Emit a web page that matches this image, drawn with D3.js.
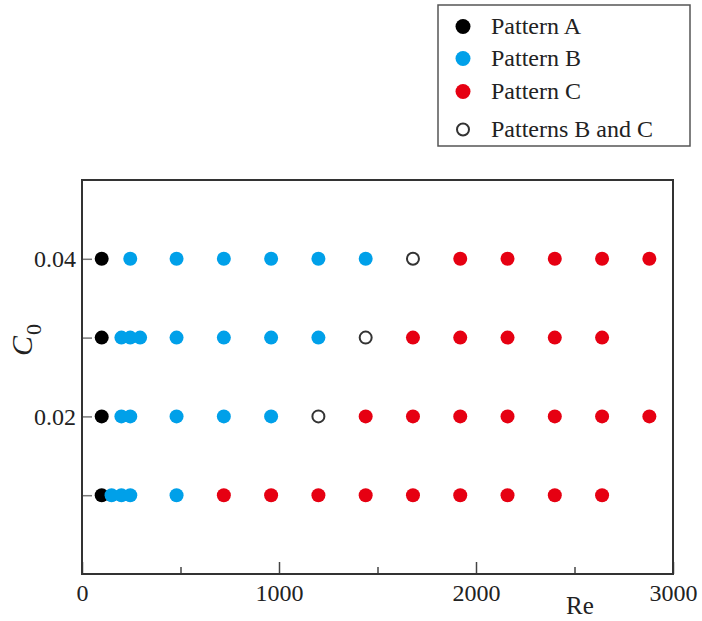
<!DOCTYPE html>
<html>
<head>
<meta charset="utf-8">
<script src="https://cdn.jsdelivr.net/npm/d3@7"></script>
<style>
body { margin: 0; background: #fff; }
text { font-family: "Liberation Serif", "Times New Roman", serif; fill: #222; }
</style>
</head>
<body>
<script>
// data: [Re, C0]
var patternA = [[100, 0.04], [100, 0.03], [100, 0.02], [100, 0.01]];
var patternB = [
    [245, 0.04], [480, 0.04], [720, 0.04], [960, 0.04], [1200, 0.04], [1440, 0.04],
    [200, 0.03], [245, 0.03], [295, 0.03], [480, 0.03], [720, 0.03], [960, 0.03], [1200, 0.03],
    [200, 0.02], [245, 0.02], [480, 0.02], [720, 0.02], [960, 0.02],
    [150, 0.01], [200, 0.01], [245, 0.01], [480, 0.01]
];
var patternC = [
    [1920, 0.04], [2160, 0.04], [2400, 0.04], [2640, 0.04], [2880, 0.04],
    [1680, 0.03], [1920, 0.03], [2160, 0.03], [2400, 0.03], [2640, 0.03],
    [1440, 0.02], [1680, 0.02], [1920, 0.02], [2160, 0.02], [2400, 0.02], [2640, 0.02], [2880, 0.02],
    [720, 0.01], [960, 0.01], [1200, 0.01], [1440, 0.01], [1680, 0.01], [1920, 0.01], [2160, 0.01], [2400, 0.01], [2640, 0.01]
];
var patternBC = [[1680, 0.04], [1440, 0.03], [1200, 0.02]];

var legendNames = ["Pattern A", "Pattern B", "Pattern C", "Patterns B and C"];
var xMajorTicks = [0, 1000, 2000, 3000];
var xMinorTicks = [500, 1500, 2500];
var yTicks = [0.01, 0.02, 0.03, 0.04];
var yLabelled = [0.02, 0.04];

var margin = {top: 180, right: 29, bottom: 47, left: 82},
    width = 702 - margin.left - margin.right,
    height = 621 - margin.top - margin.bottom;

var svg = d3.select("body").append("svg")
    .attr("width", 702)
    .attr("height", 621);

var g = svg.append("g")
    .attr("transform", "translate(" + margin.left + "," + margin.top + ")");

var x = d3.scaleLinear().domain([0, 3000]).range([0, width]);
var y = d3.scaleLinear().domain([0, 0.05]).range([height, 0]);

// ticks pointing inward
var xAxis = g.append("g")
    .attr("transform", "translate(0," + height + ")")
    .call(d3.axisBottom(x).tickValues(xMajorTicks).tickSize(-12).tickPadding(10)
        .tickFormat(d3.format("d")));
xAxis.select(".domain").remove();
xAxis.selectAll("line").attr("stroke", "#444").attr("stroke-width", 1.5);
xAxis.selectAll("text").attr("font-size", 24).attr("font-family", null).attr("fill", "#222");

var xMinor = g.append("g")
    .attr("transform", "translate(0," + height + ")")
    .call(d3.axisBottom(x).tickValues(xMinorTicks).tickSize(-7).tickFormat(""));
xMinor.select(".domain").remove();
xMinor.selectAll("line").attr("stroke", "#444").attr("stroke-width", 1.5);

var yAxis = g.append("g")
    .call(d3.axisLeft(y).tickValues(yTicks).tickSize(-10).tickPadding(6)
        .tickFormat(function (d) {
            return yLabelled.indexOf(d) >= 0 ? d3.format(".2f")(d) : "";
        }));
yAxis.select(".domain").remove();
yAxis.selectAll("line").attr("stroke", "#777").attr("stroke-width", 1.5);
yAxis.selectAll("text").attr("font-size", 24).attr("font-family", null).attr("fill", "#222");

// frame
g.append("rect")
    .attr("width", width)
    .attr("height", height)
    .attr("fill", "none")
    .attr("stroke", "#333")
    .attr("stroke-width", 2);

// points
function dots(data, fill) {
    g.append("g").selectAll("circle")
        .data(data)
        .enter().append("circle")
        .attr("cx", function (d) { return x(d[0]); })
        .attr("cy", function (d) { return y(d[1]); })
        .attr("r", 7)
        .attr("fill", fill);
}
dots(patternA, "#000");
dots(patternB, "#00a0e9");
dots(patternC, "#e60012");

g.append("g").selectAll("circle")
    .data(patternBC)
    .enter().append("circle")
    .attr("cx", function (d) { return x(d[0]); })
    .attr("cy", function (d) { return y(d[1]); })
    .attr("r", 6)
    .attr("fill", "#fff")
    .attr("stroke", "#333")
    .attr("stroke-width", 2);

// axis titles
svg.append("text")
    .attr("x", 566)
    .attr("y", 614)
    .attr("font-size", 25)
    .text("Re");

var yt = svg.append("text")
    .attr("transform", "translate(32,356) rotate(-90)");
yt.append("tspan").attr("font-size", 30).attr("font-style", "italic").text("C");
yt.append("tspan").attr("font-size", 22).attr("dy", 9).attr("dx", 1).text("0");

// legend
var legend = svg.append("g");
legend.append("rect")
    .attr("x", 438).attr("y", 5)
    .attr("width", 252).attr("height", 141)
    .attr("fill", "#fff")
    .attr("stroke", "#555")
    .attr("stroke-width", 1.5);

var baselines = [34, 66, 99, 137];
var legendFill = ["#000", "#00a0e9", "#e60012", "#fff"];

var item = legend.selectAll(".item")
    .data(legendNames)
    .enter().append("g")
    .attr("class", "item");

item.append("circle")
    .attr("cx", 463)
    .attr("cy", function (d, i) { return baselines[i] - 7.5; })
    .attr("r", function (d, i) { return i == 3 ? 6 : 7.5; })
    .attr("fill", function (d, i) { return legendFill[i]; })
    .attr("stroke", function (d, i) { return i == 3 ? "#333" : "none"; })
    .attr("stroke-width", 2);

item.append("text")
    .attr("x", 491)
    .attr("y", function (d, i) { return baselines[i]; })
    .attr("font-size", 24)
    .text(function (d) { return d; });
</script>
</body>
</html>
